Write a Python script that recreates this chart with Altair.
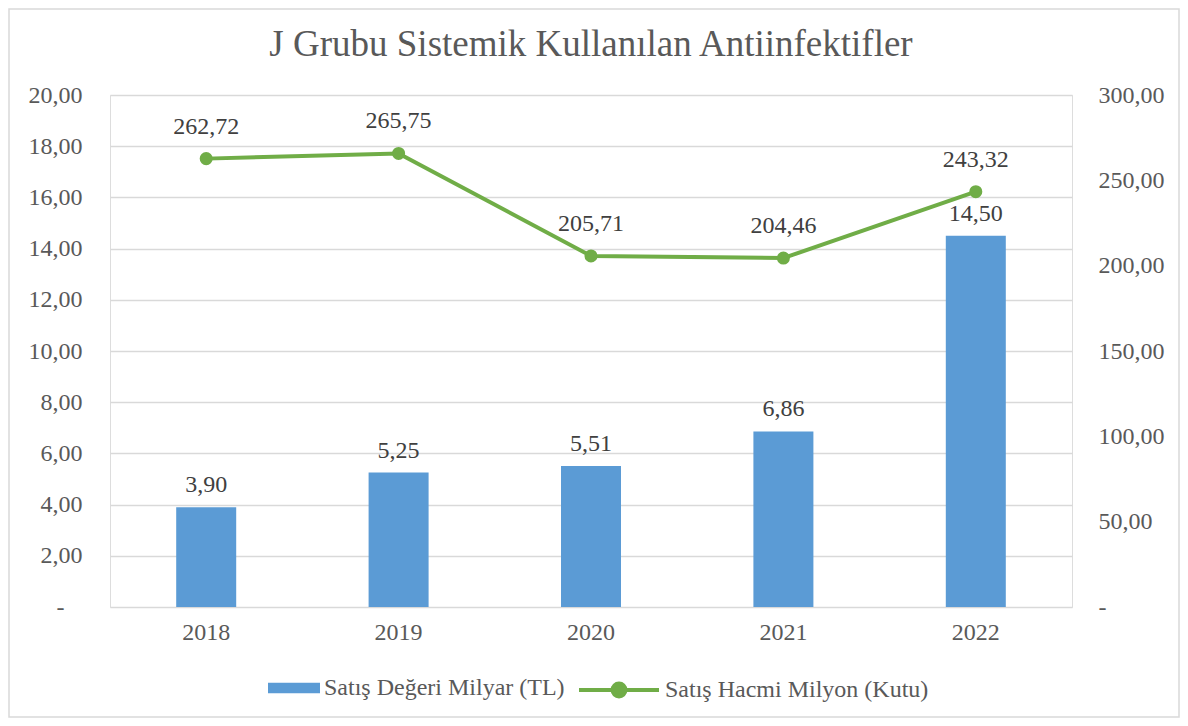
import altair as alt
import pandas as pd

years = ["2018", "2019", "2020", "2021", "2022"]
deger = [3.90, 5.25, 5.51, 6.86, 14.50]
hacim = [262.72, 265.75, 205.71, 204.46, 243.32]
s1 = "Satış Değeri Milyar (TL)"
s2 = "Satış Hacmi Milyon (Kutu)"
left_ticks = [0, 2, 4, 6, 8, 10, 12, 14, 16, 18, 20]
right_ticks = [0, 50, 100, 150, 200, 250, 300]

df = pd.DataFrame({"yil": years, "deger": deger, "hacim": hacim, "s1": s1, "s2": s2})

FONT = "Liberation Serif"
GREY = "#595959"
BLUE = "#5B9BD5"
GREEN = "#70AD47"
BLANK = "\u2800"

fmt = "replace(format(datum.{f}, '.2f'), '.', ',')"

x_enc = alt.X("yil:N", sort=years,
              scale=alt.Scale(paddingInner=0, paddingOuter=0),
              axis=alt.Axis(title=None, labelAngle=0, ticks=False, domain=False,
                            labelPadding=13, labelFontSize=24, labelColor=GREY, labelFont=FONT))

y_left = alt.Y("deger:Q", scale=alt.Scale(domain=[0, 20], nice=False),
               axis=alt.Axis(title=None, values=left_ticks, grid=True, gridColor="#D9D9D9",
                             gridWidth=1.3, domain=False, ticks=False, labelPadding=28,
                             labelFontSize=24, labelColor=GREY, labelFont=FONT,
                             labelExpr="datum.value == 0 ? '-" + BLANK + "' : " + fmt.format(f="value")))

y_right = alt.Y("hacim:Q", scale=alt.Scale(domain=[0, 300], nice=False),
                axis=alt.Axis(title=None, orient="right", values=right_ticks, grid=False,
                              domain=False, ticks=False, labelPadding=26,
                              labelFontSize=24, labelColor=GREY, labelFont=FONT,
                              labelExpr="datum.value == 0 ? '-' : " + fmt.format(f="value")))

base = alt.Chart(df)

bars = base.mark_bar(size=60, color=BLUE).encode(
    x=x_enc, y=y_left,
    color=alt.Color("s1:N", scale=alt.Scale(domain=[s1], range=[BLUE]),
                    legend=alt.Legend(title=None, orient="none", legendX=158, legendY=567,
                                      symbolType="M-1,-0.2H1V0.2H-1Z", symbolSize=2704,
                                      symbolStrokeWidth=0, labelFontSize=24, labelFont=FONT,
                                      labelColor=GREY, labelOffset=4, labelLimit=500)))

bar_text = base.mark_text(baseline="bottom", dy=-10, fontSize=24, font=FONT, color="#404040").encode(
    x=alt.X("yil:N", sort=years), y=alt.Y("deger:Q"),
    text=alt.Text("lbl:N")).transform_calculate(lbl=fmt.format(f="deger"))

line = base.mark_line(strokeWidth=4, point=alt.OverlayMarkDef(size=170, filled=True, color=GREEN)).encode(
    x=alt.X("yil:N", sort=years), y=y_right,
    color=alt.Color("s2:N", scale=alt.Scale(domain=[s2], range=[GREEN]),
                    legend=alt.Legend(title=None, orient="none", legendX=467, legendY=553,
                                      symbolType="M-1,0H1M-0.16,0a0.16,0.16 0 1,0 0.32,0a0.16,0.16 0 1,0 -0.32,0Z",
                                      symbolSize=6400, symbolStrokeWidth=4, symbolFillColor=GREEN,
                                      symbolStrokeColor=GREEN,
                                      labelFontSize=24, labelFont=FONT, labelColor=GREY, labelOffset=4,
                                      labelLimit=500)))

line_text = base.mark_text(baseline="bottom", dy=-20, fontSize=24, font=FONT, color="#404040").encode(
    x=alt.X("yil:N", sort=years), y=alt.Y("hacim:Q"),
    text=alt.Text("lbl:N")).transform_calculate(lbl=fmt.format(f="hacim"))

border = alt.Chart(pd.DataFrame({"a": [0]})).mark_rect(fillOpacity=0, stroke="#D9D9D9", strokeWidth=1.5).encode(
    x=alt.value(-101), x2=alt.value(1069), y=alt.value(-86), y2=alt.value(622))

left = alt.layer(bars, bar_text)
right = alt.layer(line, line_text)

chart = alt.layer(border, left, right).resolve_scale(y="independent", color="independent").properties(
    width=962, height=512,
    padding={"left": 102, "top": 87, "right": 108, "bottom": 111},
    autosize=alt.AutoSizeParams(type="none"),
    title=alt.TitleParams("J Grubu Sistemik Kullanılan Antiinfektifler", font=FONT, fontSize=37,
                          color=GREY, fontWeight="normal", anchor="middle", offset=-56),
).configure_view(stroke=None).configure(background="white", font=FONT)

chart.save("out.html", embed_options={"renderer": "svg", "actions": False})
